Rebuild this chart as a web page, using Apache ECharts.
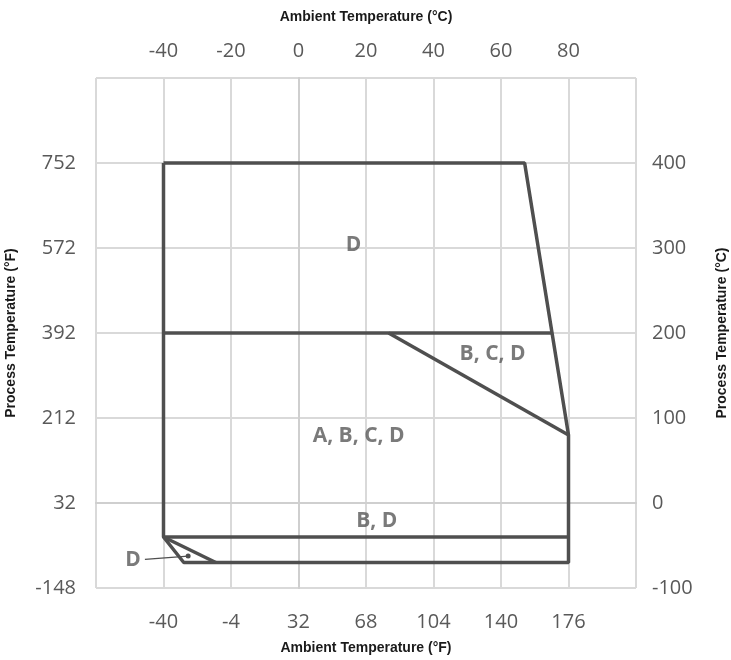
<!DOCTYPE html>
<html lang="en">
<head>
    <meta charset="UTF-8">
    <title>Ambient vs Process Temperature</title>
    <script src="https://cdn.jsdelivr.net/npm/echarts@6/dist/echarts.min.js"></script>
    <style>
        html, body { margin: 0; padding: 0; background: #fff; }
        #chart { width: 731px; height: 660px; }
    </style>
</head>
<body>
<div id="chart"></div>
<script>
    // all shapes are in degrees C, the F axes only relabel the same ticks
    var ambientTicksC = [-40, -20, 0, 20, 40, 60, 80];
    var ambientTicksF = [-40, -4, 32, 68, 104, 140, 176];
    var processTicksC = [-100, 0, 100, 200, 300, 400];
    var processTicksF = [-148, 32, 212, 392, 572, 752];

    // outline of the whole operating area
    var outline = [[-40, 400], [67, 400], [80, 80], [80, -70], [-34, -70], [-40, -40], [-40, 400]];
    var line200 = [[-40, 200], [75, 200]];
    var diagonal = [[26.7, 200], [80, 80]];
    var lineMinus40 = [[-40, -40], [80, -40]];
    var triangleEdge = [[-40, -40], [-24.5, -70]];
    var leader = [[-45.5, -66.3], [-32.7, -62.4]];

    var zoneLabels = [
        { name: 'D', value: [16.3, 303] },
        { name: 'B, C, D', value: [57.5, 175] },
        { name: 'A, B, C, D', value: [17.8, 79] },
        { name: 'B, D', value: [23.2, -21] },
        { name: 'D', value: [-49, -67.5] }
    ];

    function lookup(ticks, labels) {
        return function (v) {
            var i = ticks.indexOf(v);
            return i >= 0 ? String(labels[i]) : '';
        };
    }

    var gridColor = '#d9d9d9';
    var lineColor = '#4f4f4f';
    var tickFont = { color: '#595959', fontSize: 20, fontFamily: 'Open Sans' };
    var nameFont = { color: '#1a1a1a', fontSize: 14, fontWeight: 'bold', fontFamily: 'Liberation Sans' };

    function axis(extra) {
        var base = {
            type: 'value',
            nameLocation: 'middle',
            nameTextStyle: nameFont,
            axisLine: { show: true, lineStyle: { color: '#cfcfcf', width: 2 } },
            axisTick: { show: false },
            splitLine: { show: true, lineStyle: { color: gridColor, width: 2 } }
        };
        return Object.assign(base, extra);
    }

    function shape(data) {
        return {
            type: 'line',
            data: data,
            symbol: 'none',
            silent: true,
            lineStyle: { color: lineColor, width: 3.5 },
            z: 5
        };
    }

    var chart = echarts.init(document.getElementById('chart'));

    chart.setOption({
        animation: false,
        grid: { left: 96, right: 95, top: 78, bottom: 72, outerBoundsMode: 'none', containLabel: false },
        xAxis: [
            axis({
                position: 'bottom', min: -60, max: 100, interval: 20,
                name: 'Ambient Temperature (°F)', nameGap: 53,
                axisLabel: Object.assign({ margin: 24, formatter: lookup(ambientTicksC, ambientTicksF) }, tickFont)
            }),
            axis({
                position: 'top', min: -60, max: 100, interval: 20,
                name: 'Ambient Temperature (°C)', nameGap: 54,
                axisLabel: Object.assign({ margin: 17, formatter: lookup(ambientTicksC, ambientTicksC) }, tickFont)
            })
        ],
        yAxis: [
            axis({
                position: 'left', min: -100, max: 500, interval: 100,
                name: 'Process Temperature (°F)', nameGap: 78,
                axisLabel: Object.assign({ margin: 20, formatter: lookup(processTicksC, processTicksF) }, tickFont)
            }),
            axis({
                position: 'right', min: -100, max: 500, interval: 100,
                name: 'Process Temperature (°C)', nameGap: 79,
                axisLabel: Object.assign({ margin: 16, formatter: lookup(processTicksC, processTicksC) }, tickFont)
            })
        ],
        series: [
            shape(outline),
            shape(line200),
            shape(diagonal),
            shape(lineMinus40),
            shape(triangleEdge),
            {
                type: 'line',
                data: leader,
                symbol: function (v) { return v[0] === leader[1][0] ? 'circle' : 'none'; },
                symbolSize: 5,
                silent: true,
                itemStyle: { color: lineColor },
                lineStyle: { color: lineColor, width: 1.2 },
                z: 6
            },
            {
                type: 'scatter',
                data: zoneLabels,
                symbolSize: 0,
                silent: true,
                label: {
                    show: true,
                    position: 'inside',
                    formatter: '{b}',
                    color: '#595959',
                    fontSize: 21,
                    fontWeight: 'bold',
                    fontFamily: 'Open Sans'
                },
                z: 7
            }
        ]
    });
</script>
</body>
</html>
